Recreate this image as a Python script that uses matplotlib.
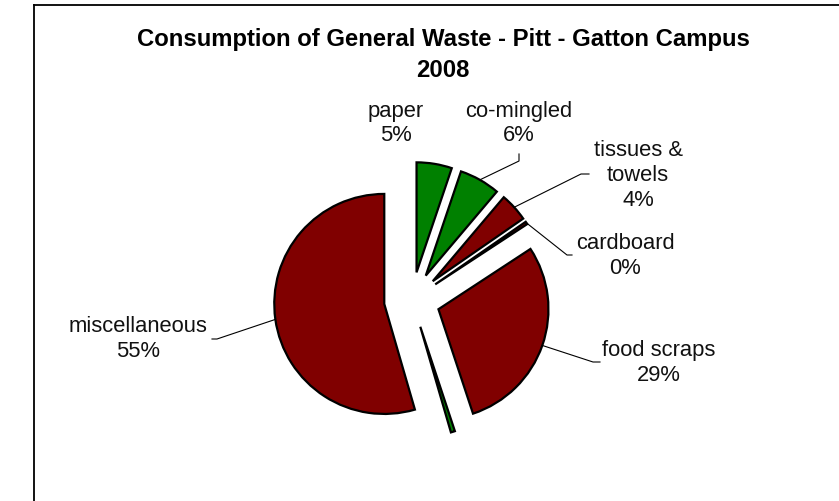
import numpy as np
import matplotlib
matplotlib.use("Agg")
import matplotlib.pyplot as plt
from matplotlib.lines import Line2D

# ---- data ----
categories = ["paper", "co-mingled", "tissues &\ntowels", "cardboard", "food scraps", "", "miscellaneous"]
values = [5.2, 6.0, 4.2, 0.4, 29.2, 0.6, 54.6]
pct_labels = ["5%", "6%", "4%", "0%", "29%", "", "55%"]
colors = ["#008000", "#008000", "#800000", "#800000", "#800000", "#008000", "#800000"]
title = "Consumption of General Waste - Pitt - Gatton Campus\n2008"

W, H = 839, 502
DPI = 100
fig = plt.figure(figsize=(W / DPI, H / DPI), dpi=DPI)
fig.patch.set_facecolor("white")

# pie geometry in pixels
CX, CY, R, EXPL = 412, 301, 110, 28

ax = fig.add_axes([0, 0, 1, 1])

def px(x, y):
    """pixel (top-left origin) -> data coords"""
    return (x - CX) / R, (CY - y) / R

wedges, _ = ax.pie(values, colors=colors, startangle=90, counterclock=False,
                   explode=[EXPL / R] * len(values), radius=1.0,
                   wedgeprops=dict(edgecolor="black", linewidth=1.6, joinstyle="miter"))
ax.set_aspect("auto")
ax.set_xlim(-CX / R, (W - CX) / R)
ax.set_ylim(-(H - CY) / R, CY / R)
ax.axis("off")

font = ["Liberation Sans", "Arial", "DejaVu Sans"]

# labels: (text center px, leader elbow px, leader end px)
label_layout = {
    0: ((396, 123.5), None, None),
    1: ((519, 123.5), (519, 162), (519, 155)),
    2: ((638, 175.5), (581, 175), (589, 175)),
    3: ((625, 256), (567, 256), (572, 256)),
    4: ((659, 363), (593, 363), (600, 363)),
    6: ((138, 339), (217, 340), (212, 340)),
}

for i, (tpos, elbow, end) in label_layout.items():
    tx, ty = px(*tpos)
    ax.text(tx, ty, categories[i] + "\n" + pct_labels[i], ha="center", va="center",
            fontsize=15.8, family=font, linespacing=1.22, color="#111111")
    if elbow is not None:
        w = wedges[i]
        mid = np.deg2rad(0.5 * (w.theta1 + w.theta2))
        cx, cy = w.center
        sx, sy = cx + w.r * np.cos(mid), cy + w.r * np.sin(mid)
        ex, ey = px(*elbow)
        fx, fy = px(*end)
        ax.add_line(Line2D([sx, ex, fx], [sy, ey, fy], color="black", lw=0.8))

fig.text(443 / W, 1 - 55 / H, title, ha="center", va="center", fontsize=17.2,
         fontweight="bold", family=font, linespacing=1.47)

# chart frame (cut off at right and bottom)
fig.add_artist(Line2D([33.5 / W, 33.5 / W], [0, 1 - 5.5 / H], transform=fig.transFigure,
                      color="black", lw=1.3))
fig.add_artist(Line2D([33.5 / W, 1.0], [1 - 5.5 / H, 1 - 5.5 / H], transform=fig.transFigure,
                      color="black", lw=1.3))

fig.savefig("out.png", dpi=DPI, facecolor="white")
